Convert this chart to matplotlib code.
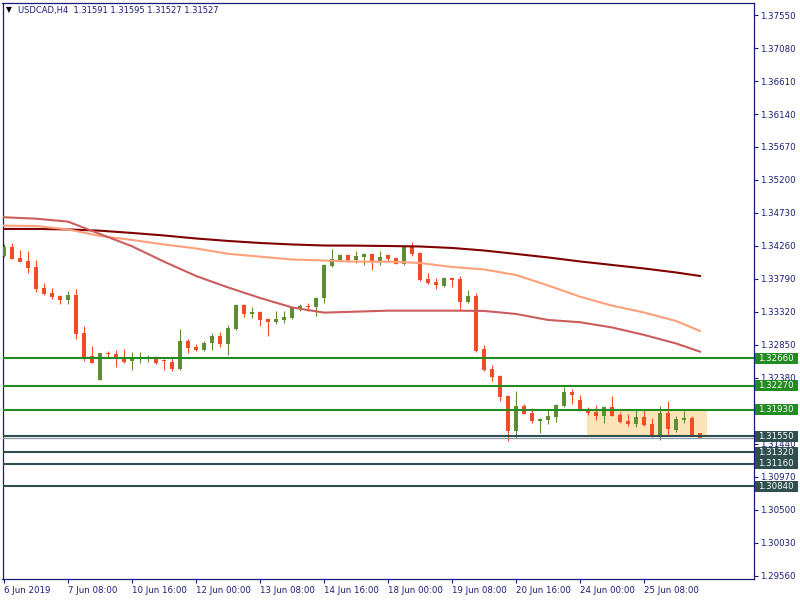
import numpy as np
import matplotlib.pyplot as plt
from matplotlib.patches import Rectangle
import matplotlib.transforms as mtransforms

# USDCAD H4 candles, bar 0 = 6 Jun 2019 00:00
opens = [
    1.34118, 1.34246, 1.34090, 1.34047, 1.33961, 1.33662, 1.33591, 1.33548, 1.33491, 1.33563,
    1.33021, 1.32694, 1.32352, 1.32737, 1.32722, 1.32665, 1.32623, 1.32651, 1.32651, 1.32680,
    1.32637, 1.32608, 1.32509, 1.32908, 1.32822, 1.32779, 1.32879, 1.32979, 1.32865, 1.33078,
    1.33420, 1.33292, 1.33321, 1.33221, 1.33178, 1.33207, 1.33235, 1.33363, 1.33406, 1.33392,
    1.33520, 1.33976, 1.34047, 1.34132, 1.34061, 1.34104, 1.34147, 1.34033, 1.34132, 1.34090,
    1.34004, 1.34260, 1.34161, 1.33790, 1.33748, 1.33691, 1.33805, 1.33790, 1.33463, 1.33548,
    1.32794, 1.32509, 1.32409, 1.32124, 1.31626, 1.31982, 1.31882, 1.31768, 1.31782, 1.31825,
    1.31982, 1.32181, 1.32067, 1.31939, 1.31896, 1.31839, 1.31968, 1.31854, 1.31768, 1.31725,
    1.31825, 1.31725, 1.31569, 1.31882, 1.31640, 1.31782, 1.31811, 1.31591]
highs = [
    1.34289, 1.34303, 1.34204, 1.34189, 1.34061, 1.33734, 1.33662, 1.33563, 1.33620, 1.33648,
    1.33121, 1.32836, 1.32737, 1.32765, 1.32779, 1.32794, 1.32751, 1.32751, 1.32708, 1.32694,
    1.32651, 1.32665, 1.33078, 1.32936, 1.32865, 1.32908, 1.33021, 1.33036, 1.33135, 1.33434,
    1.33434, 1.33392, 1.33335, 1.33235, 1.33335, 1.33335, 1.33392, 1.33434, 1.33449, 1.33534,
    1.34004, 1.34218, 1.34147, 1.34147, 1.34189, 1.34161, 1.34161, 1.34189, 1.34147, 1.34104,
    1.34275, 1.34317, 1.34175, 1.33876, 1.33805, 1.33819, 1.33819, 1.33833, 1.33634, 1.33591,
    1.32851, 1.32566, 1.32423, 1.32138, 1.32195, 1.32010, 1.31953, 1.31811, 1.31939, 1.32010,
    1.32252, 1.32224, 1.32138, 1.31968, 1.31996, 1.31982, 1.32124, 1.31896, 1.31868, 1.31925,
    1.31939, 1.31811, 1.31982, 1.32053, 1.31839, 1.31911, 1.31839, 1.31595]
lows = [
    1.34104, 1.34075, 1.34033, 1.33876, 1.33605, 1.33563, 1.33506, 1.33434, 1.33434, 1.32936,
    1.32623, 1.32594, 1.32352, 1.32680, 1.32537, 1.32594, 1.32495, 1.32594, 1.32608, 1.32580,
    1.32495, 1.32480, 1.32495, 1.32737, 1.32765, 1.32765, 1.32779, 1.32822, 1.32708, 1.33064,
    1.33249, 1.33235, 1.33121, 1.32979, 1.33150, 1.33164, 1.33221, 1.33335, 1.33335, 1.33264,
    1.33449, 1.33961, 1.34033, 1.34033, 1.34018, 1.33990, 1.33919, 1.33990, 1.34047, 1.34004,
    1.33990, 1.34118, 1.33762, 1.33720, 1.33648, 1.33677, 1.33677, 1.33349, 1.33449, 1.32751,
    1.32480, 1.32338, 1.32053, 1.31483, 1.31526, 1.31868, 1.31740, 1.31597, 1.31725, 1.31754,
    1.31968, 1.32010, 1.31911, 1.31854, 1.31782, 1.31740, 1.31839, 1.31740, 1.31697, 1.31683,
    1.31697, 1.31540, 1.31498, 1.31569, 1.31611, 1.31740, 1.31555, 1.31527]
closes = [
    1.34246, 1.34075, 1.34033, 1.33947, 1.33648, 1.33577, 1.33534, 1.33491, 1.33563, 1.33007,
    1.32680, 1.32594, 1.32737, 1.32722, 1.32651, 1.32608, 1.32651, 1.32680, 1.32680, 1.32594,
    1.32623, 1.32509, 1.32908, 1.32808, 1.32779, 1.32879, 1.32979, 1.32865, 1.33093, 1.33420,
    1.33292, 1.33321, 1.33207, 1.33178, 1.33221, 1.33249, 1.33378, 1.33406, 1.33392, 1.33520,
    1.33990, 1.34075, 1.34132, 1.34061, 1.34118, 1.34147, 1.34033, 1.34104, 1.34075, 1.34004,
    1.34260, 1.34147, 1.33776, 1.33734, 1.33705, 1.33805, 1.33776, 1.33463, 1.33548, 1.32765,
    1.32495, 1.32395, 1.32110, 1.31626, 1.31982, 1.31868, 1.31768, 1.31797, 1.31839, 1.31996,
    1.32181, 1.32138, 1.31939, 1.31882, 1.31839, 1.31968, 1.31839, 1.31754, 1.31725, 1.31825,
    1.31711, 1.31569, 1.31882, 1.31654, 1.31797, 1.31811, 1.31569, 1.31527]

# moving averages read at every 4th bar
ma_bars = [0, 4, 8, 12, 16, 20, 24, 28, 32, 36, 40, 44, 48, 52, 56, 60, 64, 68, 72, 76, 80, 84, 87]
ma_fast = [1.34669, 1.34649, 1.34607, 1.34431, 1.34256, 1.34037, 1.33833, 1.33670, 1.33520, 1.33385,
           1.33311, 1.33325, 1.33339, 1.33339, 1.33339, 1.33335, 1.33292, 1.33207, 1.33174, 1.33100,
           1.32994, 1.32872, 1.32755]
ma_mid = [1.34550, 1.34545, 1.34496, 1.34403, 1.34346, 1.34282, 1.34225, 1.34149, 1.34108, 1.34068,
          1.34054, 1.34037, 1.34037, 1.34018, 1.33961, 1.33926, 1.33847, 1.33698, 1.33538, 1.33410,
          1.33313, 1.33192, 1.33050]
ma_slow = [1.34503, 1.34503, 1.34496, 1.34478, 1.34446, 1.34410, 1.34367, 1.34332, 1.34303, 1.34282,
           1.34267, 1.34265, 1.34260, 1.34253, 1.34232, 1.34196, 1.34147, 1.34097, 1.34040, 1.33990,
           1.33940, 1.33883, 1.33833]

green_levels = [1.32660, 1.32270, 1.31930]
dark_levels = [1.31550, 1.31320, 1.31160, 1.30840]
bid_price = 1.31527

zone_bars = [72.9, 87.85]
zone_prices = [1.31568, 1.31912]

price_ticks = [1.37550, 1.37080, 1.36610, 1.36140, 1.35670, 1.35200, 1.34730, 1.34260, 1.33790,
               1.33320, 1.32850, 1.32380, 1.31910, 1.31440, 1.30970, 1.30500, 1.30030, 1.29560]
time_ticks = [0, 8, 16, 24, 32, 40, 48, 56, 64, 72, 80]
time_labels = ['6 Jun 2019', '7 Jun 08:00', '10 Jun 16:00', '12 Jun 00:00', '13 Jun 08:00',
               '14 Jun 16:00', '18 Jun 00:00', '19 Jun 08:00', '20 Jun 16:00', '24 Jun 00:00',
               '25 Jun 08:00']

navy = '#1c1c78'
bull = '#5b8f31'
bear = '#f24c27'

plt.rcParams['font.family'] = 'DejaVu Sans'
fig = plt.figure(figsize=(8, 6), dpi=100)
ax = fig.add_axes([2.5 / 800, 21 / 600, 751.5 / 800, 576 / 600])

ax.set_xlim(-0.19, 93.75)
ax.set_ylim(1.29517, 1.37721)

# background zone
ax.add_patch(Rectangle((zone_bars[0], zone_prices[0]), zone_bars[1] - zone_bars[0],
                       zone_prices[1] - zone_prices[0], facecolor='#fde4b8', edgecolor='none', zorder=0))

# candles
o = np.array(opens); h = np.array(highs); l = np.array(lows); c = np.array(closes)
idx = np.arange(len(o))
cols = np.where(c >= o, bull, bear)
ax.vlines(idx, l, h, colors=cols, linewidth=0.8, zorder=2)
body = np.maximum(np.abs(c - o), 0.00012)
ax.bar(idx, body, bottom=np.minimum(o, c), width=0.62, color=cols, linewidth=0, zorder=3)

# moving averages
ax.plot(ma_bars, ma_slow, color='#800000', lw=1.5, zorder=4)
ax.plot(ma_bars, ma_mid, color='#ffa07a', lw=1.5, zorder=4)
ax.plot(ma_bars, ma_fast, color='#cd5c5c', lw=1.5, zorder=4)

# horizontal levels
for p in green_levels:
    ax.axhline(p, color='#228b22', lw=1.5, zorder=5)
for p in dark_levels:
    ax.axhline(p, color='#2f4f4f', lw=1.5, zorder=5)
ax.axhline(bid_price, color='#8a9aa8', lw=0.9, zorder=5)

# axes styling
for s in ax.spines.values():
    s.set_color(navy)
    s.set_linewidth(0.9)
ax.yaxis.tick_right()
ax.set_yticks(price_ticks)
# 1.31910 sits fully under the 1.31930 box in the reference
ax.set_yticklabels(['' if v == 1.31910 else '%.5f' % v for v in price_ticks])
ax.tick_params(axis='y', colors=navy, labelcolor=navy, length=3, width=0.8, pad=1.5, labelsize=6.2)
ax.set_xticks(time_ticks)
ax.set_xticklabels(time_labels, ha='left')
ax.tick_params(axis='x', colors=navy, labelcolor=navy, length=3, width=0.8, pad=2, labelsize=6.2)

# level price boxes on the right
trans = mtransforms.blended_transform_factory(ax.transAxes, ax.transData)
bh = 0.00157
for levels, fc in [(green_levels, '#228b22'), (dark_levels, '#2f4f4f')]:
    for p in levels:
        ax.add_patch(Rectangle((1.0013, p - bh / 2), 0.0573, bh, transform=trans,
                               facecolor=fc, edgecolor='none', clip_on=False, zorder=6))
        ax.text(1.0058, p, '%.5f' % p, transform=trans, color='white', fontsize=6.2,
                va='center', ha='left', zorder=7, clip_on=False)

# header
fig.text(6 / 800, 1 - 10 / 600, '\u25bc', fontsize=5.5, color='black', va='center', ha='left')
fig.text(18 / 800, 1 - 10 / 600, 'USDCAD,H4  1.31591 1.31595 1.31527 1.31527',
         fontsize=6.0, color=navy, va='center', ha='left')

fig.savefig('out.png', dpi=100)
